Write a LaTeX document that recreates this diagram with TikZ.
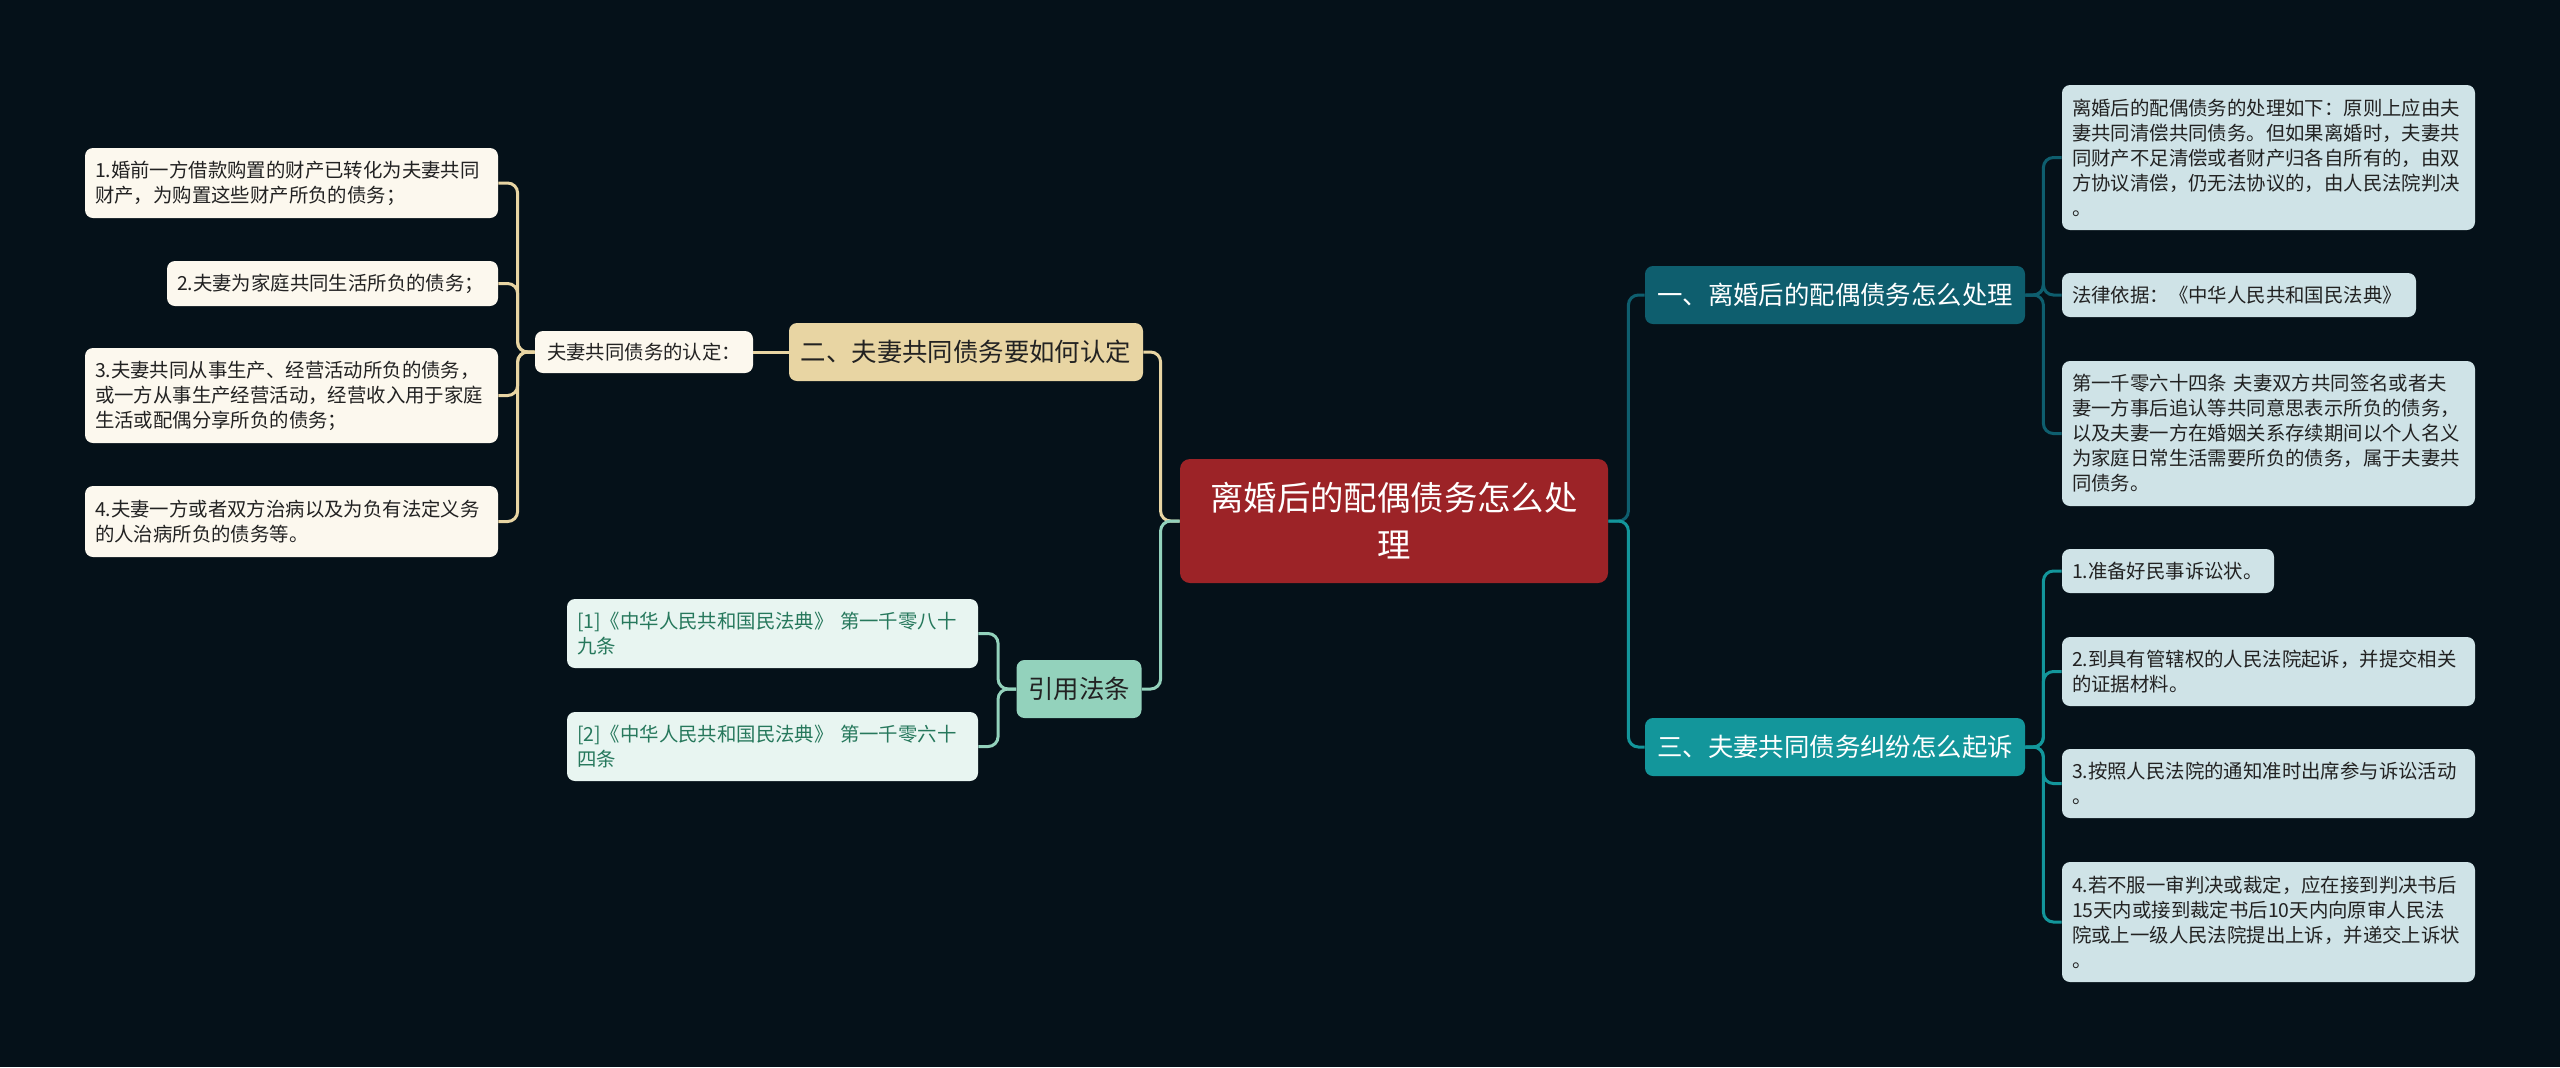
\documentclass[tikz,border=0pt]{standalone}
\usepackage{fontspec}
\setmainfont{Noto Sans CJK SC}
\usepackage{tikz}
\usetikzlibrary{positioning}
\definecolor{bgnavy}{RGB}{5,17,25}
\definecolor{rootred}{RGB}{156,35,39}
\definecolor{darkteal}{RGB}{14,94,110}
\definecolor{brightteal}{RGB}{19,150,155}
\definecolor{sandgold}{RGB}{232,213,163}
\definecolor{mintgreen}{RGB}{147,210,188}
\definecolor{leafblue}{RGB}{207,227,231}
\definecolor{leafcream}{RGB}{252,248,238}
\definecolor{leafmint}{RGB}{232,245,241}
\definecolor{citegreen}{RGB}{38,120,92}
\definecolor{inkdark}{RGB}{34,34,34}
\tikzset{
  base/.style={rectangle, rounded corners=4pt, inner sep=5pt, align=left, text=inkdark, font=\fontsize{9.7}{12.5}\selectfont},
  wide/.style={minimum width=206.5pt, text width=196.5pt},
  leafR/.style={base, fill=leafblue},
  leafL/.style={base, fill=leafcream},
  leafC/.style={base, fill=leafmint, text=citegreen},
  topic/.style={rectangle, rounded corners=4pt, inner sep=4pt, align=center, minimum height=29pt, font=\fontsize{12.7}{16}\selectfont},
  central/.style={rectangle, rounded corners=5pt, fill=rootred, text=white, align=center, minimum width=214pt, minimum height=62pt, font=\fontsize{16.7}{23.5}\selectfont},
  conn/.style={line width=1.5pt, rounded corners=5pt, draw=#1},
}
\begin{document}
\begin{tikzpicture}[x=0.5pt,y=-0.5pt]
  \fill[bgnavy] (0,0) rectangle (2560,1067);
  \useasboundingbox (0,0) rectangle (2560,1067);
  \node[central] (root) at (1394,521) {离婚后的配偶债务怎么处\\理};
  \node[topic,fill=darkteal,text=white,minimum width=190pt] (b1) at (1835,295) {一、离婚后的配偶债务怎么处理};
  \node[topic,fill=brightteal,text=white,minimum width=190pt] (b3) at (1835,747) {三、夫妻共同债务纠纷怎么起诉};
  \node[topic,fill=sandgold,text=inkdark,minimum width=177pt] (b2) at (966,352) {二、夫妻共同债务要如何认定};
  \node[topic,fill=mintgreen,text=inkdark,minimum width=62.5pt] (ref) at (1079,689) {引用法条};
  \node[leafL,minimum width=109pt,minimum height=21pt] (sub) at (644,352) {夫妻共同债务的认定：};
  \node[leafL,wide,minimum height=35pt] (l1) at (291.5,183) {1.婚前一方借款购置的财产已转化为夫妻共同\\财产，为购置这些财产所负的债务；};
  \node[leafL,minimum width=165.5pt,text width=155.5pt,minimum height=22.5pt] (l2) at (332.5,283.5) {2.夫妻为家庭共同生活所负的债务；};
  \node[leafL,wide,minimum height=47.5pt] (l3) at (291.5,395.5) {3.夫妻共同从事生产、经营活动所负的债务，\\或一方从事生产经营活动，经营收入用于家庭\\生活或配偶分享所负的债务；};
  \node[leafL,wide,minimum height=35.5pt] (l4) at (291.5,521.5) {4.夫妻一方或者双方治病以及为负有法定义务\\的人治病所负的债务等。};
  \node[leafC,minimum width=205.5pt,text width=195.5pt,minimum height=34.5pt] (c1) at (772.5,633.5) {[1]《中华人民共和国民法典》 第一千零八十\\九条};
  \node[leafC,minimum width=205.5pt,text width=195.5pt,minimum height=34.5pt] (c2) at (772.5,746.5) {[2]《中华人民共和国民法典》 第一千零六十\\四条};
  \node[leafR,wide,minimum height=72.5pt] (r1) at (2268.5,157.5) {离婚后的配偶债务的处理如下：原则上应由夫\\妻共同清偿共同债务。但如果离婚时，夫妻共\\同财产不足清偿或者财产归各自所有的，由双\\方协议清偿，仍无法协议的，由人民法院判决\\。};
  \node[leafR,minimum width=177pt,text width=167pt,minimum height=22pt] (r2) at (2239,295) {法律依据：《中华人民共和国民法典》};
  \node[leafR,wide,minimum height=72.5pt] (r3) at (2268.5,433.5) {第一千零六十四条 夫妻双方共同签名或者夫\\妻一方事后追认等共同意思表示所负的债务，\\以及夫妻一方在婚姻关系存续期间以个人名义\\为家庭日常生活需要所负的债务，属于夫妻共\\同债务。};
  \node[leafR,minimum width=106pt,text width=96pt,minimum height=22pt] (s1) at (2168,571) {1.准备好民事诉讼状。};
  \node[leafR,wide,minimum height=34.5pt] (s2) at (2268.5,671.5) {2.到具有管辖权的人民法院起诉，并提交相关\\的证据材料。};
  \node[leafR,wide,minimum height=34.5pt] (s3) at (2268.5,783.5) {3.按照人民法院的通知准时出席参与诉讼活动\\。};
  \node[leafR,wide,minimum height=60pt] (s4) at (2268.5,922) {4.若不服一审判决或裁定，应在接到判决书后\\15天内或接到裁定书后10天内向原审人民法\\院或上一级人民法院提出上诉，并递交上诉状\\。};
  \draw[conn=darkteal] (root.east) -- ++(20,0) |- (b1.west);
  \draw[conn=brightteal] (root.east) -- ++(20,0) |- (b3.west);
  \draw[conn=sandgold] (root.west) -- ++(-19,0) |- (b2.east);
  \draw[conn=mintgreen] (root.west) -- ++(-19,0) |- (ref.east);
  \draw[conn=sandgold] (b2.west) -- (sub.east);
  \foreach \n in {r1,r2,r3}{\draw[conn=darkteal] (b1.east) -- ++(18,0) |- (\n.west);}
  \foreach \n in {s1,s2,s3,s4}{\draw[conn=brightteal] (b3.east) -- ++(18,0) |- (\n.west);}
  \foreach \n in {l1,l2,l3,l4}{\draw[conn=sandgold] (sub.west) -- ++(-17,0) |- (\n.east);}
  \foreach \n in {c1,c2}{\draw[conn=mintgreen] (ref.west) -- ++(-18,0) |- (\n.east);}
\end{tikzpicture}
\end{document}
